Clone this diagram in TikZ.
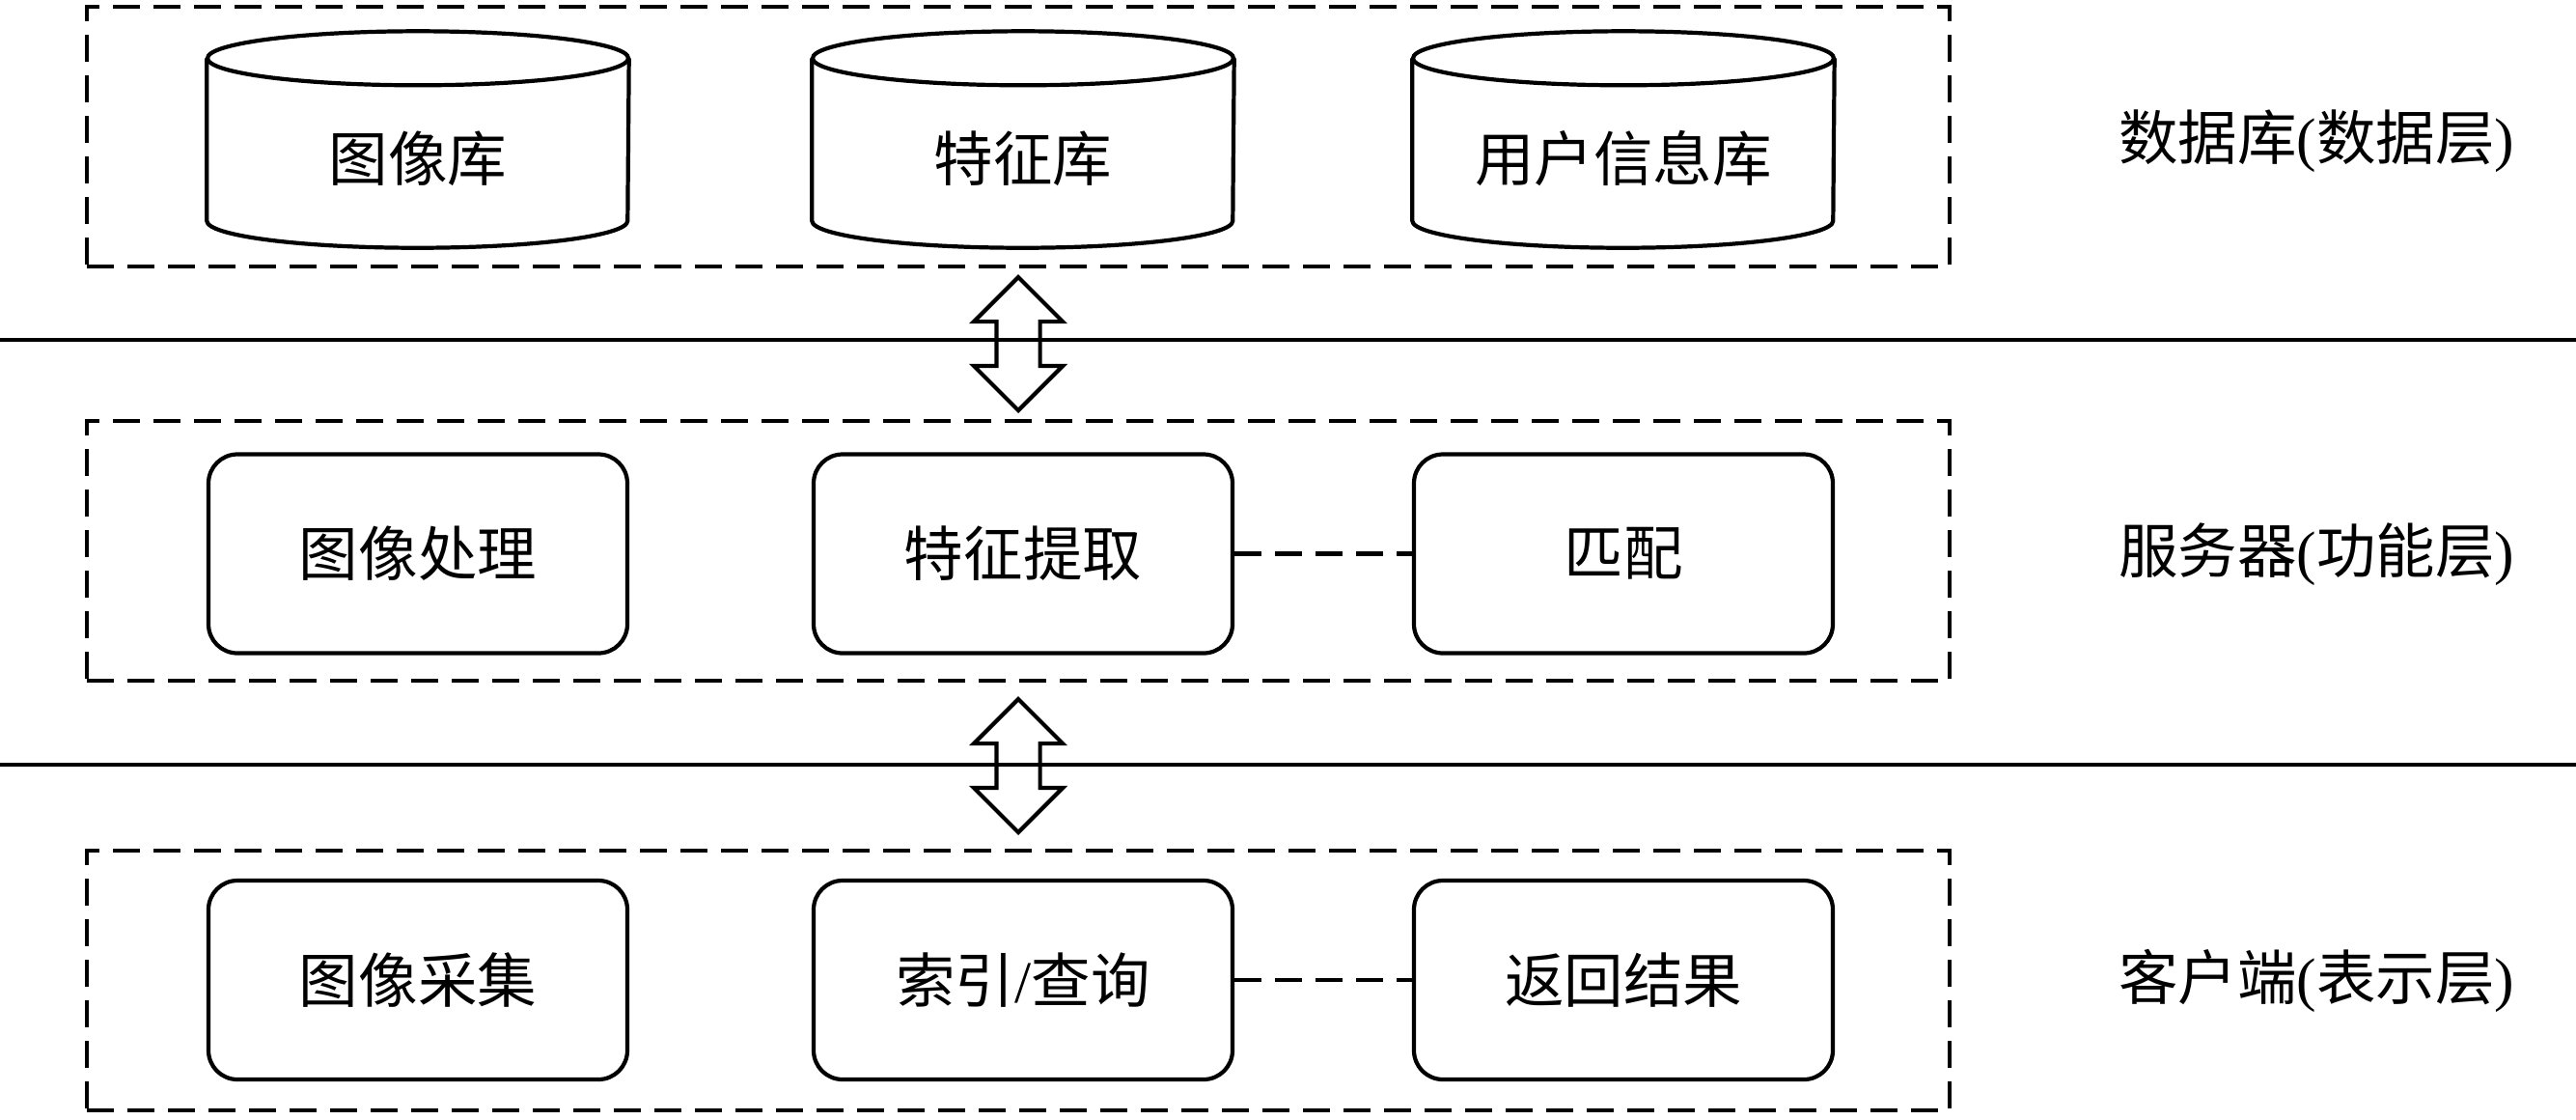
\documentclass[tikz,border=0pt]{standalone}
\usepackage{fontspec}
\setmainfont{Liberation Serif}
\newfontfamily\cjk{Noto Sans CJK SC}
\usetikzlibrary{shapes.arrows,calc}

\begin{document}
\begin{tikzpicture}[x=1cm,y=1cm,
  every node/.style={inner sep=0pt,font=\fontsize{17.5pt}{21pt}\selectfont\cjk},
  layer/.style={draw,dash pattern=on 0.28cm off 0.14cm,line width=1.2pt,minimum width=19.30cm,minimum height=2.69cm},
  store/.style={minimum width=4.36cm,minimum height=1.28cm},
  module/.style={draw,rounded corners=0.3cm,minimum width=4.34cm,minimum height=2.06cm,line width=1.2pt},
  link/.style={dash pattern=on 0.28cm off 0.14cm,line width=1.2pt},
  swap/.style={draw,double arrow,rotate=90,minimum height=1.38cm,inner ysep=0.205cm,minimum width=0.88cm,double arrow head extend=0.235cm,line width=1.2pt}]
\useasboundingbox (0,0) rectangle (26.69,-11.59);

\node [layer] (dataLayer) at (10.55,-1.415) {};
\node [layer] (funcLayer) at (10.55,-5.705) {};
\node [layer] (showLayer) at (10.55,-10.155) {};

\node [store] (imgDB) at (4.33,-1.64) {图像库};
\node [store] (featDB) at (10.60,-1.64) {特征库};
\node [store] (userDB) at (16.82,-1.64) {用户信息库};
\foreach \n in {imgDB,featDB,userDB} {
  \draw [line width=1.2pt] ([yshift=0.39cm]\n.north west) -- (\n.south west)
    arc [start angle=180,end angle=360,x radius=2.18cm,y radius=0.28cm]
    -- ([yshift=0.39cm]\n.north east);
  \draw [line width=1.2pt] ([yshift=0.39cm]\n.north) ellipse [x radius=2.18cm,y radius=0.28cm];
}

\node [module] (imgProc) at (4.33,-5.735) {图像处理};
\node [module] (featExt) at (10.60,-5.735) {特征提取};
\node [module] (match) at (16.82,-5.735) {匹配};

\node [module] (imgCap) at (4.33,-10.15) {图像采集};
\node [module] (query) at (10.60,-10.15) {索引{\rmfamily/}查询};
\node [module] (result) at (16.82,-10.15) {返回结果};

\draw [link] (featExt.east) -- (match.west);
\draw [link] (query.east) -- (result.west);

\coordinate (ruleAL) at (0,-3.52);
\coordinate (ruleAR) at (26.69,-3.52);
\coordinate (ruleBL) at (0,-7.92);
\coordinate (ruleBR) at (26.69,-7.92);
\draw [line width=1.2pt] (ruleAL) -- (ruleAR);
\draw [line width=1.2pt] (ruleBL) -- (ruleBR);

\node [swap] (upperSwap) at ($(dataLayer.south)!0.5!(funcLayer.north)$) {};
\node [swap] (lowerSwap) at ($(funcLayer.south)!0.5!(showLayer.north)$) {};

\node (dataTag) at (24.0,-1.46) {数据库{\rmfamily(}数据层{\rmfamily)}};
\node (funcTag) at (24.0,-5.74) {服务器{\rmfamily(}功能层{\rmfamily)}};
\node (showTag) at (24.0,-10.16) {客户端{\rmfamily(}表示层{\rmfamily)}};
\end{tikzpicture}
\end{document}
